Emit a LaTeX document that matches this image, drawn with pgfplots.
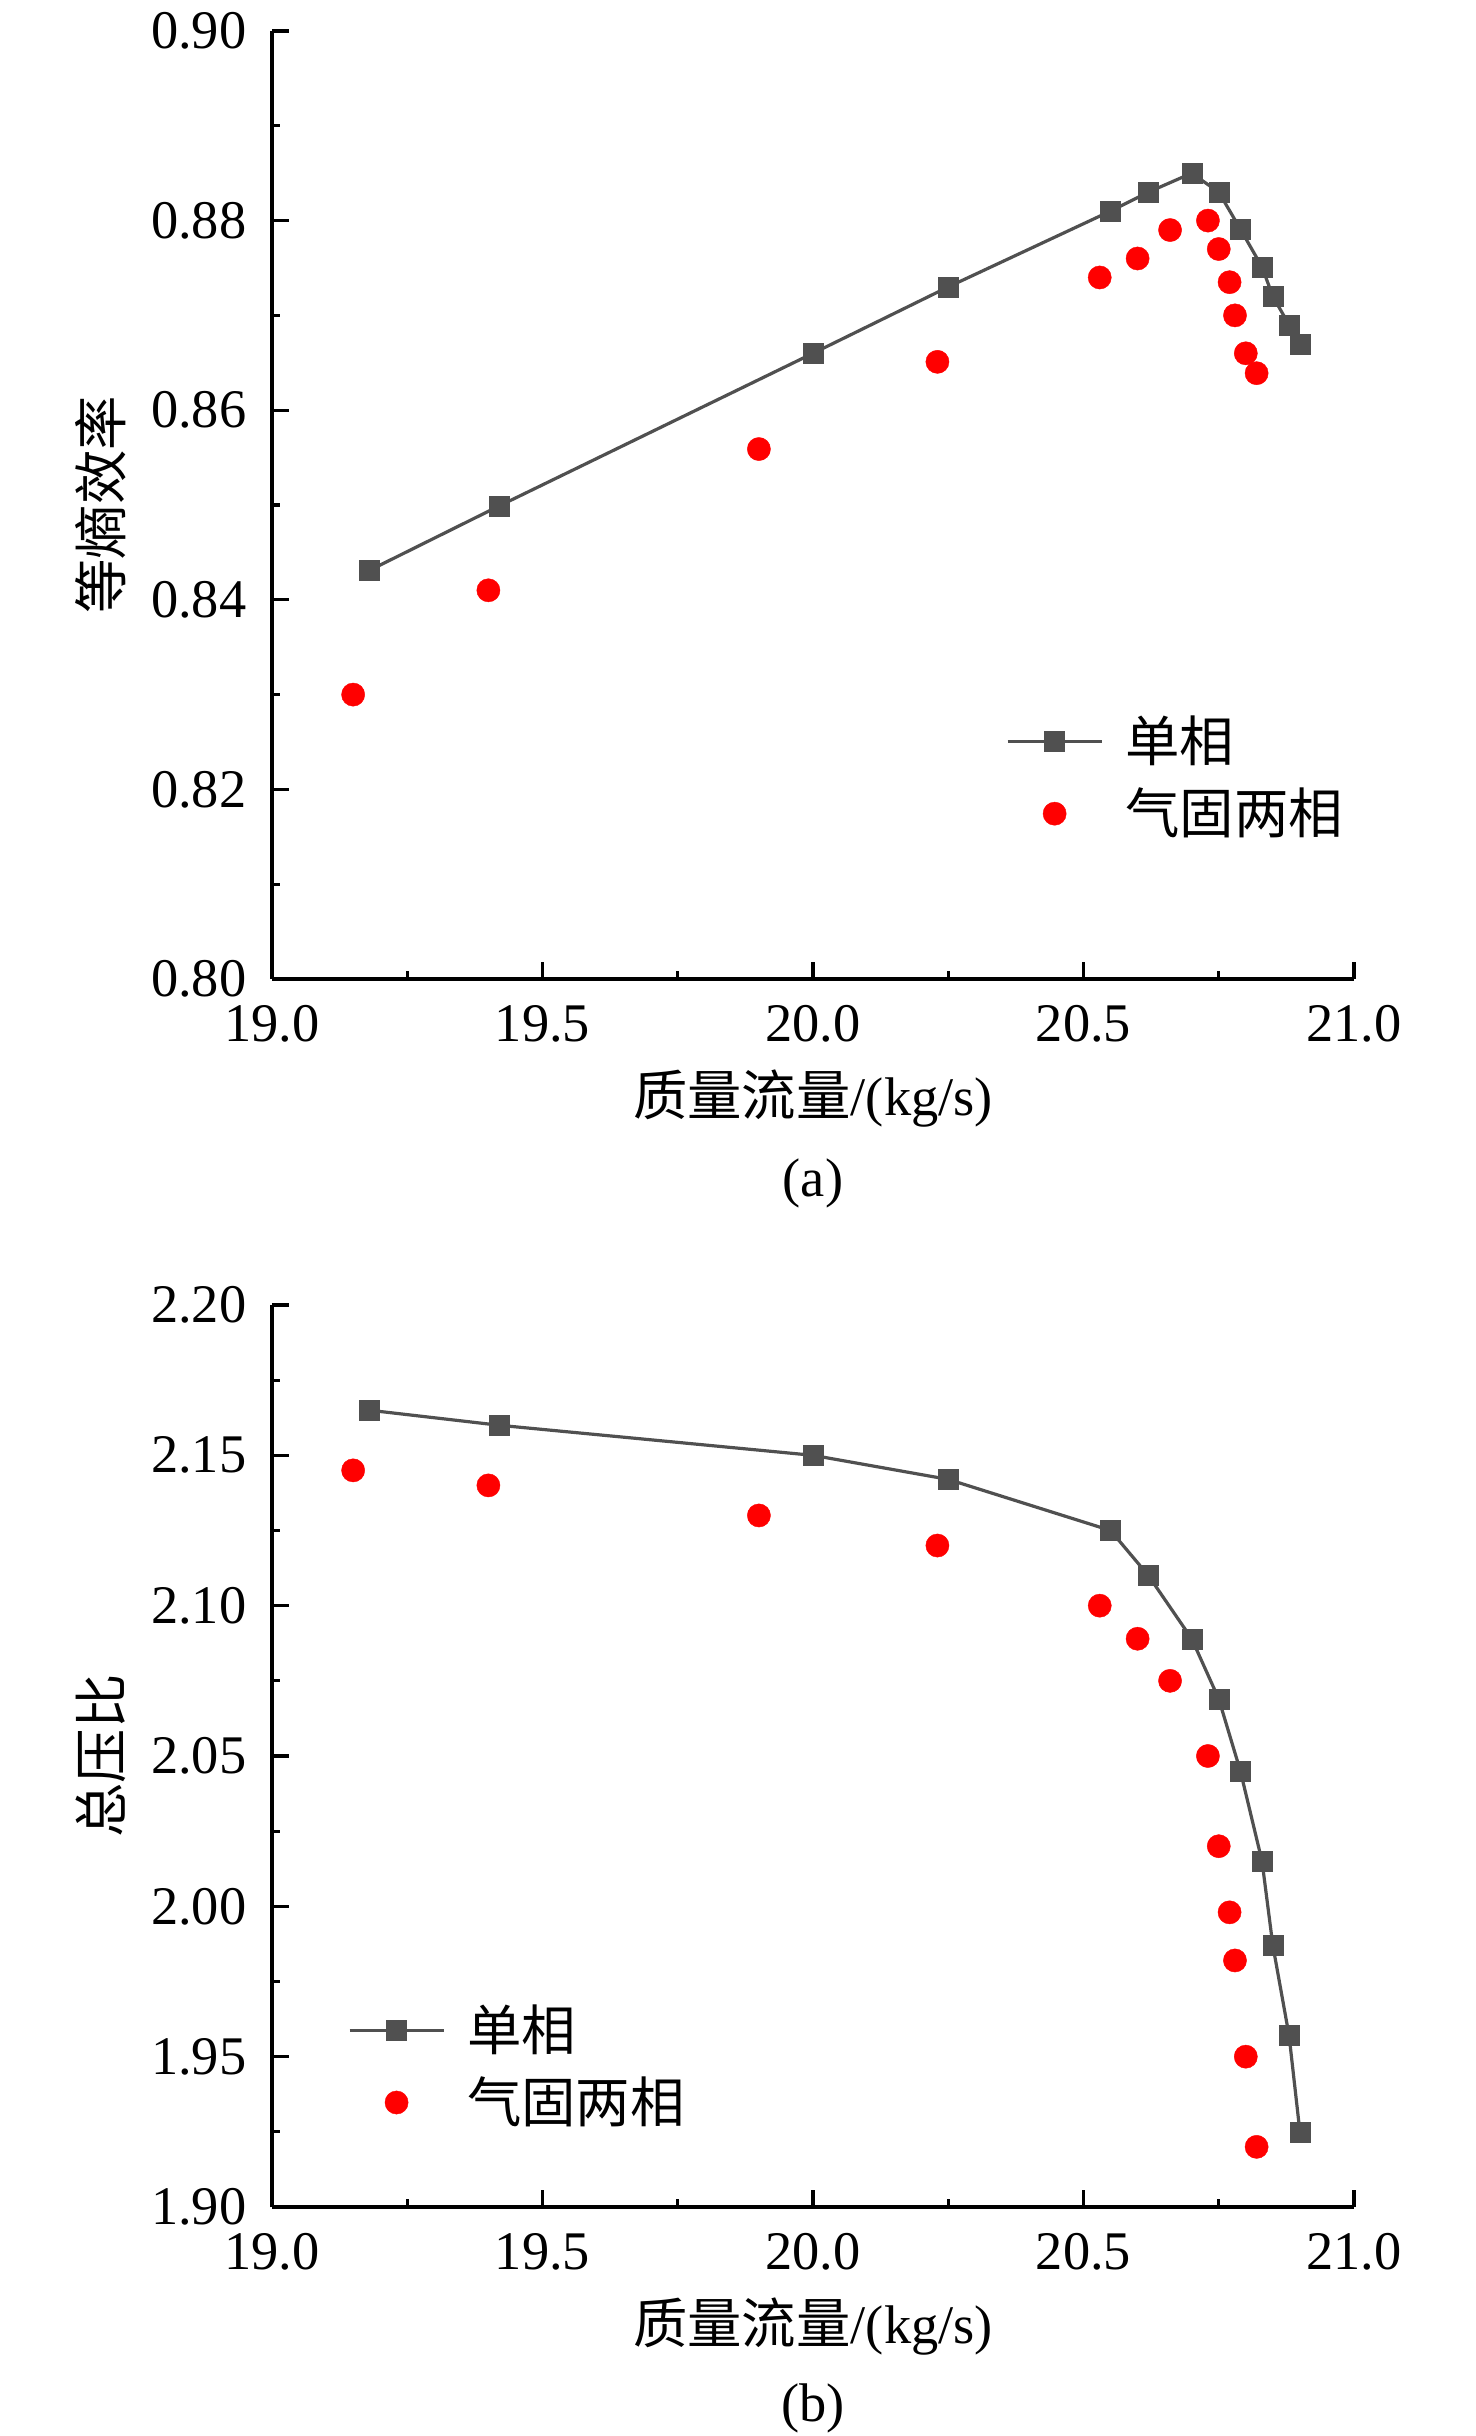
\documentclass[border=0pt]{standalone}
\usepackage{fontspec}
\setmainfont{Liberation Serif}
\newfontfamily\cjk{Noto Sans CJK SC}
\usepackage{pgfplots}
\pgfplotsset{compat=1.18}
\definecolor{sgray}{HTML}{505050}
\definecolor{sred}{HTML}{FF0000}
\newcommand\ff{\fontsize{13.6bp}{16bp}\selectfont}

\pgfplotsset{
 myax/.style={
  scale only axis, width=270.5bp, anchor=south west, clip=false,
  axis lines=left, axis line style={-, line width=0.8bp, black},
  tick align=inside, major tick length=4.25bp, minor tick length=2bp,
  every tick/.style={black, line width=0.8bp},
  minor x tick num=1, minor y tick num=1,
  xmin=19, xmax=21, xtick={19,19.5,20,20.5,21},
  tick label style={font=\ff},
  /pgf/number format/assume math mode=true,
  xticklabel style={/pgf/number format/.cd, fixed, fixed zerofill, precision=1, /tikz/.cd, inner sep=0pt, anchor=north, yshift=-6.5bp},
  yticklabel style={/pgf/number format/.cd, fixed, fixed zerofill, precision=2, /tikz/.cd, inner sep=0pt, anchor=east, xshift=-6.25bp},
  label style={font=\ff},
  legend cell align=left,
  legend style={draw=none, fill=none, inner sep=0pt, outer sep=0pt, font=\ff\cjk, nodes={inner sep=0pt}, column sep=5.5bp, row sep=5.15bp, anchor=west},
 },
 single/.style={color=sgray, line width=0.8bp, mark=square*, mark size=2.5bp,
  mark options={solid, fill=sgray, draw=sgray, line width=0.1bp},
  legend image code/.code={\draw[mark repeat=2, mark phase=2, ##1] plot coordinates {(0bp,0bp)(11.75bp,0bp)(23.5bp,0bp)};}},
 twop/.style={only marks, color=sred, mark=*, mark size=2.9bp,
  mark options={fill=sred, draw=sred, line width=0.1bp},
  legend image code/.code={\path (0bp,0bp) (23.5bp,0bp); \draw[mark repeat=2, mark phase=2, ##1] plot coordinates {(0bp,0bp)(11.75bp,0bp)(23.5bp,0bp)};}},
}

\pgfplotstableread{
x y
19.18 0.8431
19.42 0.8499
20.00 0.8660
20.25 0.8730
20.55 0.8810
20.62 0.8830
20.70 0.8850
20.75 0.8830
20.79 0.8791
20.83 0.8751
20.85 0.8720
20.88 0.8690
20.90 0.8670
}\effsingle
\pgfplotstableread{
x y
19.15 0.8300
19.40 0.8410
19.90 0.8559
20.23 0.8651
20.53 0.8740
20.60 0.8760
20.66 0.8790
20.73 0.8800
20.75 0.8770
20.77 0.8735
20.78 0.8700
20.80 0.8660
20.82 0.8639
}\efftwo
\pgfplotstableread{
x y
19.18 2.165
19.42 2.160
20.00 2.150
20.25 2.142
20.55 2.125
20.62 2.110
20.70 2.089
20.75 2.069
20.79 2.045
20.83 2.015
20.85 1.987
20.88 1.957
20.90 1.925
}\prsingle
\pgfplotstableread{
x y
19.15 2.145
19.40 2.140
19.90 2.130
20.23 2.120
20.53 2.100
20.60 2.089
20.66 2.075
20.73 2.050
20.75 2.020
20.77 1.998
20.78 1.982
20.80 1.950
20.82 1.920
}\prtwo

\begin{document}
\begin{tikzpicture}
\path[use as bounding box] (0,0) rectangle (369bp,609bp);

\begin{axis}[myax, at={(68bp,364.25bp)}, height=237bp,
  ymin=0.80, ymax=0.90, ytick={0.80,0.82,0.84,0.86,0.88,0.90},
  xlabel={{\cjk 质量流量}/(kg/s)},
  xlabel style={at={(axis description cs:0.5,-0.1266)}, anchor=center},
  ylabel={\cjk 等熵效率},
  ylabel style={at={(axis description cs:-0.158,0.5)}, anchor=center},
  legend style={at={(axis description cs:0.6784,0.2125)}},
]
\addplot[single] table[x=x,y=y] {\effsingle};
\addlegendentry{单相}
\addplot[twop] table[x=x,y=y] {\efftwo};
\addlegendentry{气固两相}
\node[font=\ff] at (axis description cs:0.5,-0.2152) {(a)};
\end{axis}

\begin{axis}[myax, at={(68bp,57.25bp)}, height=225.5bp,
  ymin=1.90, ymax=2.20, ytick={1.90,1.95,2.00,2.05,2.10,2.15,2.20},
  xlabel={{\cjk 质量流量}/(kg/s)},
  xlabel style={at={(axis description cs:0.5,-0.1330)}, anchor=center},
  ylabel={\cjk 总压比},
  ylabel style={at={(axis description cs:-0.158,0.5)}, anchor=center},
  legend style={at={(axis description cs:0.0702,0.1559)}},
]
\addplot[single] table[x=x,y=y] {\prsingle};
\addlegendentry{单相}
\addplot[twop] table[x=x,y=y] {\prtwo};
\addlegendentry{气固两相}
\node[font=\ff] at (axis description cs:0.5,-0.2228) {(b)};
\end{axis}
\end{tikzpicture}
\end{document}
